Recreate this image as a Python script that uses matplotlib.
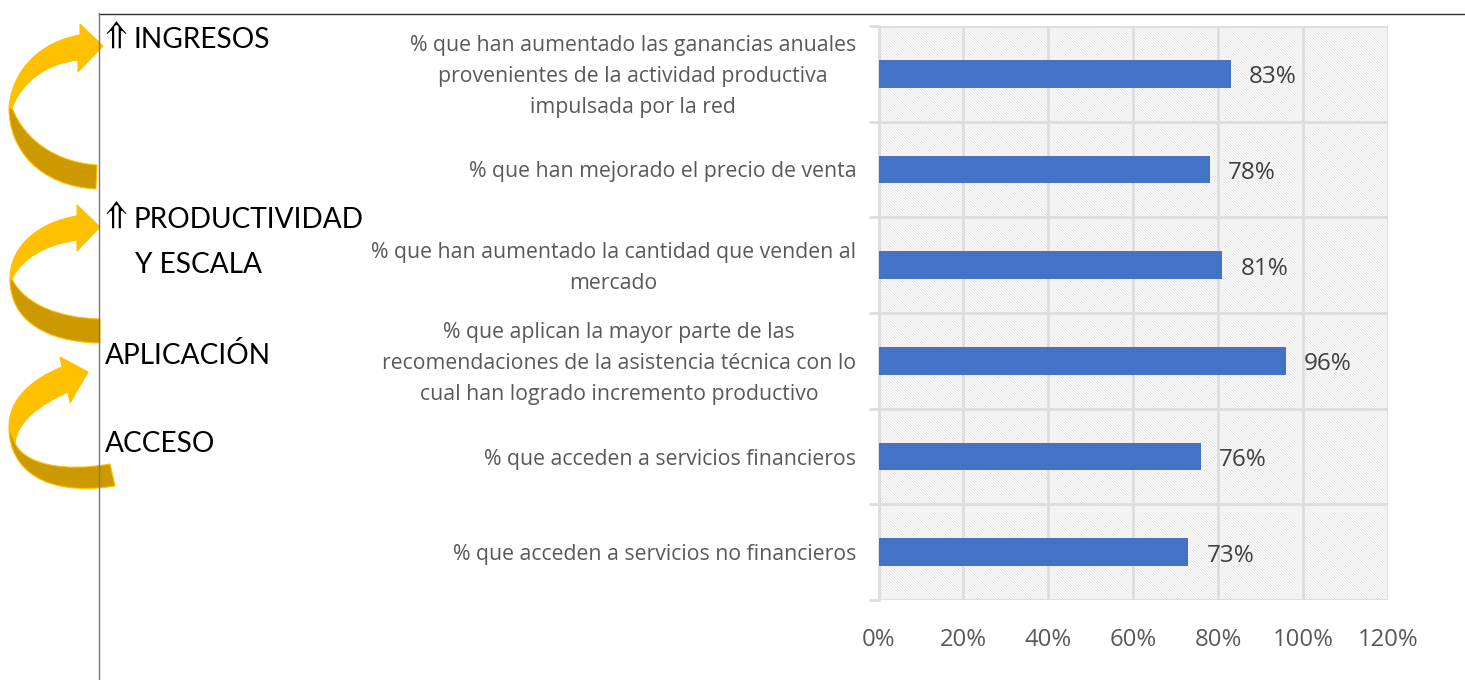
import matplotlib
matplotlib.use('Agg')
import matplotlib.pyplot as plt
from matplotlib.lines import Line2D
from matplotlib.patches import PathPatch
from matplotlib.path import Path
from matplotlib.transforms import ScaledTranslation

W, H = 1465, 680

categories = [
    '% que acceden a servicios no financieros',
    '% que acceden a servicios financieros',
    '% que aplican la mayor parte de las\nrecomendaciones de la asistencia técnica con lo\ncual han logrado incremento productivo',
    '% que han aumentado la cantidad que venden al\nmercado',
    '% que han mejorado el precio de venta',
    '% que han aumentado las ganancias anuales\nprovenientes de la actividad productiva\nimpulsada por la red',
]
values = [73, 76, 96, 81, 78, 83]
x_ticks = [0, 20, 40, 60, 80, 100, 120]
stages = ['INGRESOS', 'PRODUCTIVIDAD', 'Y ESCALA', 'APLICACIÓN', 'ACCESO']

plt.rcParams['hatch.linewidth'] = 0.5
plt.rcParams['hatch.color'] = '#dedede'

fig = plt.figure(figsize=(W / 100, H / 100), dpi=100, facecolor='white')

# Chart area, placed by pixels
left, right, top, bottom = 878.5, 1388, 26, 600
ax = fig.add_axes([left / W, 1 - bottom / H, (right - left) / W, (bottom - top) / H])
ax.patch.set_facecolor('white')
ax.patch.set_hatch('\\' * 12)
ax.patch.set_edgecolor('#dedede')

ypos = list(range(len(categories)))
ax.barh(ypos, values, height=0.29, color='#4472c4', zorder=3)
for y, v in zip(ypos, values):
    ax.annotate(f'{v}%', (v, y), xytext=(13, -2.5), textcoords='offset points', ha='left', va='center',
                fontsize=17.5, color='#404040', family='Open Sans')

ax.set_xlim(0, 120)
ax.set_ylim(-0.5, 5.5)
ax.set_xticks(x_ticks)
ax.set_xticklabels([f'{t}%' for t in x_ticks], fontsize=17.2, color='#595959', family='Open Sans')
ax.set_yticks(ypos)
ax.set_yticklabels(categories, fontsize=15.3, color='#595959', family='Open Sans',
                   multialignment='center', linespacing=1.62, va='center')
ax.set_yticks([y - 0.5 for y in range(7)], minor=True)
ax.tick_params(axis='y', which='major', length=0, pad=16)
ax.tick_params(axis='y', which='minor', length=7, width=2, color='#dddddd')
ax.tick_params(axis='x', which='major', length=0, pad=20)
# tick_params resets the label transforms, so nudge the labels after it
for lbl in ax.get_yticklabels():
    lbl.set_transform(lbl.get_transform() + ScaledTranslation(0, -2.5 / 100, fig.dpi_scale_trans))
ax.grid(axis='x', color='#dddddd', linewidth=2, zorder=1)
ax.grid(axis='y', which='minor', color='#dddddd', linewidth=2, zorder=1)
ax.set_axisbelow(True)
for name, spine in ax.spines.items():
    spine.set_visible(name == 'left')
    spine.set_color('#dddddd')
    spine.set_linewidth(2)

# Overlay in image pixels for the frame, the labels and the arrows
ov = fig.add_axes([0, 0, 1, 1], facecolor='none')
ov.set_xlim(0, W)
ov.set_ylim(H, 0)
ov.axis('off')

ov.add_line(Line2D([99, W], [13.5, 13.5], color='#333333', linewidth=1))
ov.add_line(Line2D([99, 99], [13, H], color='#777777', linewidth=1))

stage_pos = [(133, 40), (134, 220), (135, 265), (105, 355), (105, 444)]
for label, (px, py) in zip(stages, stage_pos):
    ov.text(px, py, label, fontsize=20.2, family='Lato', color='black', va='center', ha='left')
for py in [33, 213]:
    ov.text(114, py, r'$\Uparrow$', fontsize=24, math_fontfamily='stix', color='black',
            va='center', ha='center')


def shape(points, color):
    codes = [Path.MOVETO]
    verts = [points[0]]
    for p in points[1:]:
        if len(p) == 3:
            verts += list(p)
            codes += [Path.CURVE4] * 3
        else:
            verts.append(p)
            codes.append(Path.LINETO)
    verts.append(points[0])
    codes.append(Path.CLOSEPOLY)
    ov.add_patch(PathPatch(Path(verts, codes), facecolor=color, edgecolor='#ffc000', linewidth=0.8))


GOLD = '#ffc000'
DARK = '#cc9a00'

# upper arrow
shape([(9, 108), ((9, 150), (40, 186), (96, 189)), (97, 165), ((55, 162), (25, 140), (12, 108))], DARK)
shape([(9, 108), ((12, 70), (40, 42), (80, 35)), (80, 24), (103, 46), (78, 72), (78, 60),
       ((45, 64), (22, 82), (12, 108))], GOLD)
# middle arrow
shape([(10, 279), ((10, 320), (45, 342), (100, 343)), (100, 319), ((60, 318), (25, 305), (12, 279))], DARK)
shape([(10, 279), ((10, 245), (40, 222), (77, 216)), (77, 205), (100, 227), (77, 251), (77, 240),
       ((45, 245), (22, 258), (12, 279))], GOLD)
# lower arrow
shape([(9, 427), ((9, 470), (45, 497), (115, 486)), (110, 464), ((65, 472), (25, 465), (15, 443))], DARK)
shape([(9, 427), ((9, 400), (30, 380), (62, 367)), (60, 357), (88, 372), (70, 403), (68, 392),
       ((40, 405), (18, 420), (15, 443))], GOLD)

fig.savefig('out.png', dpi=100)
